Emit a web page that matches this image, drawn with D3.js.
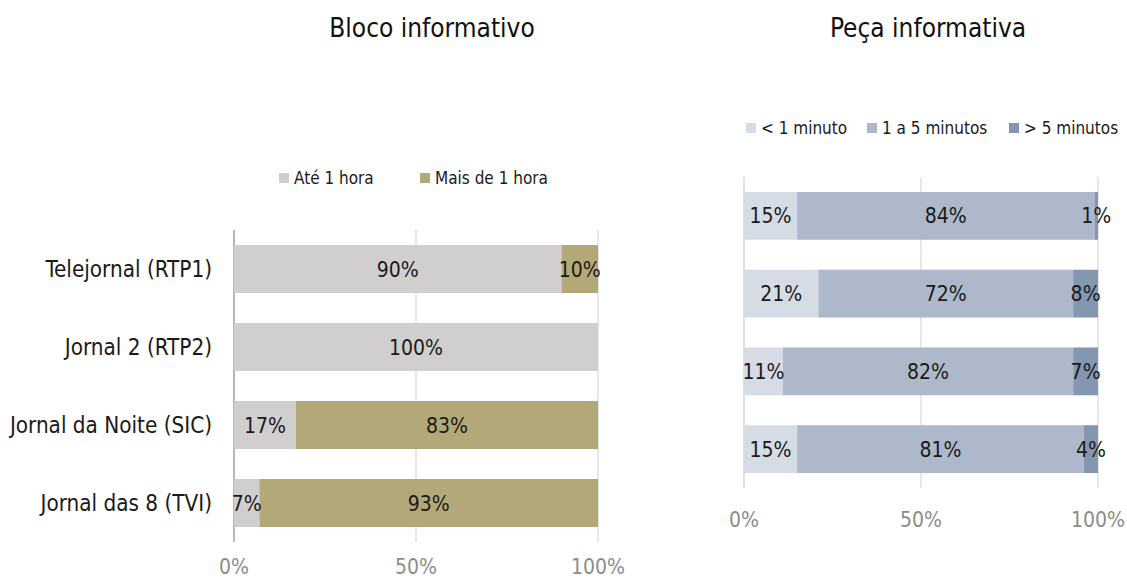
<!DOCTYPE html>
<html>
<head>
<meta charset="utf-8">
<script src="https://cdn.jsdelivr.net/npm/d3@7"></script>
<style>
  html, body { margin: 0; padding: 0; background: #fff; }
  svg { display: block; font-family: "DejaVu Sans Condensed", "Liberation Sans Narrow", Roboto, sans-serif; }
</style>
</head>
<body>
<svg id="chart" width="1127" height="581"></svg>
<script>
// ---- Data ----
const blocoCategories = ["Telejornal (RTP1)", "Jornal 2 (RTP2)", "Jornal da Noite (SIC)", "Jornal das 8 (TVI)"];
const blocoSeries = ["Até 1 hora", "Mais de 1 hora"];
const blocoAte1 = [90, 100, 17, 7];
const blocoMais1 = [10, 0, 83, 93];

const pecaCategories = ["Telejornal (RTP1)", "Jornal 2 (RTP2)", "Jornal da Noite (SIC)", "Jornal das 8 (TVI)"];
const pecaSeries = ["< 1 minuto", "1 a 5 minutos", "> 5 minutos"];
const pecaMenos1 = [15, 21, 11, 15];
const peca1a5 = [84, 72, 82, 81];
const pecaMais5 = [1, 8, 7, 4];

const tickValues = [0, 50, 100];
const tickLabels = ["0%", "50%", "100%"];
const titles = ["Bloco informativo", "Peça informativa"];

// ---- Styles ----
const blocoColors = ["#d0cece", "#b3a877"];
const pecaColors = ["#d6dce5", "#adb9ca", "#8497b0"];
const gridColor = "#d9d9d9";

const svg = d3.select("#chart");

function drawPanel(opts) {
  const { cats, seriesNames, seriesVals, colors, x0, x1, y0, y1, axisColor,
          tickY, showCatLabels, legendY, legendX, title, titleX } = opts;
  const x = d3.scaleLinear().domain([0, 100]).range([x0, x1]);
  const y = d3.scaleBand().domain(cats).range([y0, y1]).paddingInner(0.385).paddingOuter(0.1925);
  const g = svg.append("g");

  // gridlines
  g.selectAll("line.grid").data(tickValues).join("line")
    .attr("x1", d => x(d)).attr("x2", d => x(d))
    .attr("y1", y0).attr("y2", y1)
    .attr("stroke", (d, i) => i === 0 ? axisColor : gridColor)
    .attr("stroke-width", (d, i) => i === 0 ? 1.6 : 1.2);

  // stacked data
  const rows = cats.map((c, i) => {
    const r = { cat: c };
    seriesNames.forEach((s, j) => r[s] = seriesVals[j][i]);
    return r;
  });
  const stack = d3.stack().keys(seriesNames)(rows);

  stack.forEach((layer, j) => {
    const lg = g.append("g");
    lg.selectAll("rect").data(layer).join("rect")
      .attr("x", d => x(d[0]))
      .attr("y", d => y(d.data.cat))
      .attr("width", d => Math.max(0, x(Math.min(100, d[1])) - x(d[0])))
      .attr("height", y.bandwidth())
      .attr("fill", colors[j]);
  });
  stack.forEach((layer, j) => {
    g.append("g").selectAll("text").data(layer.filter(d => d[1] - d[0] > 0)).join("text")
      .attr("x", d => (x(d[0]) + x(Math.min(100, d[1]))) / 2)
      .attr("y", d => y(d.data.cat) + y.bandwidth() / 2)
      .attr("dy", "0.36em")
      .attr("text-anchor", "middle")
      .attr("font-size", 21)
      .attr("fill", "#1a1a1a")
      .text(d => (d[1] - d[0]) + "%");
  });

  // tick labels
  g.selectAll("text.tick").data(tickValues).join("text")
    .attr("x", d => x(d)).attr("y", tickY)
    .attr("dy", "0.36em")
    .attr("text-anchor", "middle")
    .attr("font-size", 21)
    .attr("fill", "#8c8c8c")
    .text((d, i) => tickLabels[i]);

  if (showCatLabels) {
    g.selectAll("text.cat").data(cats).join("text")
      .attr("x", x0 - 22)
      .attr("y", d => y(d) + y.bandwidth() / 2)
      .attr("dy", "0.36em")
      .attr("text-anchor", "end")
      .attr("font-size", 22.3)
      .attr("fill", "#1a1a1a")
      .text(d => d);
  }

  // legend
  seriesNames.forEach((s, j) => {
    svg.append("rect").attr("x", legendX[j]).attr("y", legendY - 5)
      .attr("width", 10).attr("height", 10).attr("fill", colors[j]);
    svg.append("text").attr("x", legendX[j] + 15).attr("y", legendY)
      .attr("dy", "0.36em").attr("font-size", 17).attr("fill", "#1a1a1a").text(s);
  });

  svg.append("text").attr("x", titleX).attr("y", 28).attr("dy", "0.36em")
    .attr("text-anchor", "middle").attr("font-size", 26).attr("fill", "#111").text(title);
}

drawPanel({
  cats: blocoCategories, seriesNames: blocoSeries, seriesVals: [blocoAte1, blocoMais1],
  colors: blocoColors, x0: 234, x1: 598, y0: 230, y1: 542, axisColor: "#a6a6a6",
  tickY: 566, showCatLabels: true, legendY: 178, legendX: [279, 420],
  title: titles[0], titleX: 432
});
drawPanel({
  cats: pecaCategories, seriesNames: pecaSeries, seriesVals: [pecaMenos1, peca1a5, pecaMais5],
  colors: pecaColors, x0: 744, x1: 1098, y0: 177, y1: 488, axisColor: gridColor,
  tickY: 519, showCatLabels: false, legendY: 128, legendX: [746, 867, 1009],
  title: titles[1], titleX: 928
});
</script>
</body>
</html>
